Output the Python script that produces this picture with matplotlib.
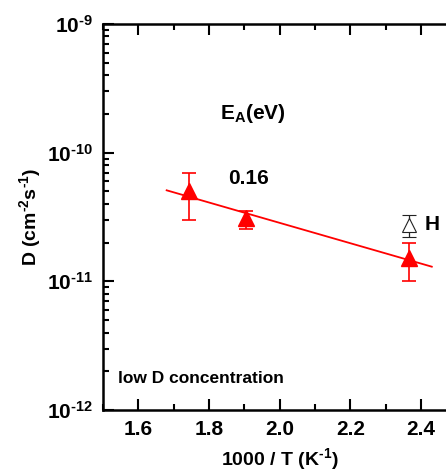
import matplotlib
matplotlib.use("Agg")
import matplotlib.pyplot as plt
from matplotlib.ticker import FixedLocator, LogLocator, NullFormatter, MultipleLocator
import numpy as np

plt.rcParams["font.family"] = ["Liberation Sans", "DejaVu Sans"]
plt.rcParams["font.weight"] = "bold"
plt.rcParams["axes.labelweight"] = "bold"
plt.rcParams["mathtext.fontset"] = "custom"
plt.rcParams["mathtext.rm"] = "Liberation Sans:bold"
plt.rcParams["mathtext.it"] = "Liberation Sans:bold"
plt.rcParams["mathtext.bf"] = "Liberation Sans:bold"
plt.rcParams["mathtext.default"] = "rm"

# deuterium data (red)
x_d = [1.743, 1.905, 2.366]
y_d = [5.0e-11, 3.1e-11, 1.52e-11]
y_d_lo = [3.0e-11, 2.55e-11, 1.0e-11]
y_d_hi = [7.0e-11, 3.5e-11, 2.0e-11]

# hydrogen point (open)
x_h = [2.366]
y_h = [2.75e-11]
y_h_lo = [2.2e-11]
y_h_hi = [3.3e-11]

# Arrhenius fit endpoints
fit_x = [1.68, 2.43]
fit_y = [5.1e-11, 1.3e-11]

xticks = [1.6, 1.8, 2.0, 2.2, 2.4]
ydecades = [-12, -11, -10, -9]

fig = plt.figure(figsize=(4.46, 4.71), dpi=100)
ax = fig.add_axes([0.231, 0.1295, 0.7926, 0.8195])
ax.set_yscale("log")

ax.plot(fit_x, fit_y, color="red", lw=1.3)

err_d = [np.array(y_d) - np.array(y_d_lo), np.array(y_d_hi) - np.array(y_d)]
ax.errorbar(x_d, y_d, yerr=err_d, fmt="^", color="red", ms=11,
            capsize=5, elinewidth=1.2, capthick=1.2)

err_h = [np.array(y_h) - np.array(y_h_lo), np.array(y_h_hi) - np.array(y_h)]
ax.errorbar(x_h, y_h, yerr=err_h, fmt="^", mfc="white", mec="#222222",
            color="#222222", ms=10, mew=0.8, capsize=5, elinewidth=0.9, capthick=0.9)

ax.set_xlim(1.5, 2.5)
ax.set_ylim(1e-12, 1e-9)

ax.xaxis.set_major_locator(FixedLocator(xticks))
ax.xaxis.set_minor_locator(MultipleLocator(0.1))
ax.set_xticklabels([f"{t:.1f}" for t in xticks])
ax.yaxis.set_major_locator(FixedLocator([10.0 ** d for d in ydecades]))
ax.set_yticklabels([r"10$^{\text{-%d}}$" % abs(d) for d in ydecades])
ax.yaxis.set_minor_locator(LogLocator(base=10, subs=np.arange(2, 10), numticks=20))
ax.yaxis.set_minor_formatter(NullFormatter())

ax.tick_params(which="both", direction="in", top=True, right=False, width=1.5,
               labelsize=15, pad=7)
ax.tick_params(which="major", length=8)
ax.tick_params(which="minor", length=4.5)
for s in ["left", "bottom", "top"]:
    ax.spines[s].set_linewidth(1.8)
ax.spines["right"].set_visible(False)

ax.set_xlabel(r"1000 / T (K$^{\text{-1}}$)", fontsize=14, labelpad=5)
ax.set_ylabel(r"D (cm$^{\text{-2}}$s$^{\text{-1}}$)", fontsize=14, labelpad=3)

ax.text(1.832, 2.0e-10, "E$_{A}$(eV)", fontsize=15, va="center")
ax.text(1.853, 6.3e-11, "0.16", fontsize=15, va="center")
ax.text(2.41, 2.75e-11, "H", fontsize=15, va="center")
ax.text(1.543, 1.75e-12, "low D concentration", fontsize=12.5, va="center")

fig.savefig("out.png", dpi=100)
